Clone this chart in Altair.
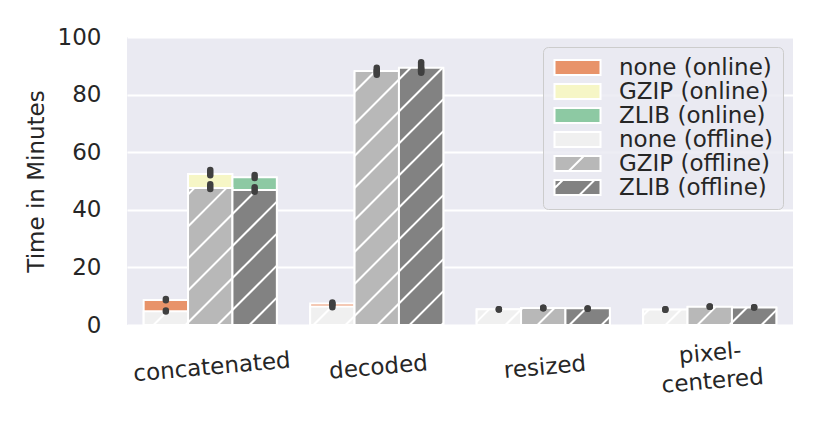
import json
import altair as alt
import pandas as pd

# ---------------- data ----------------
CATEGORIES = ["concatenated", "decoded", "resized", "pixel-\ncentered"]
COMPRESSIONS = ["none", "GZIP", "ZLIB"]
SERIES = ["none (online)", "GZIP (online)", "ZLIB (online)",
          "none (offline)", "GZIP (offline)", "ZLIB (offline)"]

# mean time in minutes, per category -> [none, GZIP, ZLIB]
ONLINE_MEAN = [[8.7, 52.4, 51.3], [7.5, 87.6, 88.3], [5.4, 5.8, 5.7], [5.3, 6.2, 6.0]]
OFFLINE_MEAN = [[4.8, 47.6, 46.9], [6.4, 88.2, 89.3], [5.5, 5.9, 5.8], [5.4, 6.3, 6.1]]
# confidence interval (low, high)
ONLINE_CI = [[(8.6, 9.0), (52.0, 53.8), (51.0, 52.1)],
             [(7.0, 7.8), (86.9, 88.3), (87.6, 89.0)],
             [(5.35, 5.5), (5.8, 6.0), (5.6, 5.75)],
             [(5.3, 5.45), (6.3, 6.45), (6.05, 6.2)]]
OFFLINE_CI = [[(4.7, 5.0), (47.2, 48.9), (46.3, 47.8)],
              [(6.2, 7.4), (87.5, 89.3), (87.9, 91.2)],
              [(5.35, 5.5), (5.8, 6.0), (5.6, 5.75)],
              [(5.3, 5.45), (6.3, 6.45), (6.05, 6.2)]]

Y_TICKS = [0, 20, 40, 60, 80, 100]
ONLINE_COLORS = ["#E8936A", "#F6F6C6", "#8DC9A3"]
OFFLINE_COLORS = ["#F0F0F0", "#B8B8B8", "#828282"]

# ---------------- layout / style ----------------
W, H = 666, 288
X_MIN, X_MAX = -0.5, len(CATEGORIES) - 0.5
BW = 0.8 / len(COMPRESSIONS)
FONT = "DejaVu Sans"
FS = 23
TXT = "#262626"
HATCH_STEP = 32.0   # px between hatch lines
HATCH_PHASE = 26.5  # px
BLANK = "\u2800"    # blank glyph used as a spacer line (not trimmed away)

rows = []
for ci, cat in enumerate(CATEGORIES):
    for hi, comp in enumerate(COMPRESSIONS):
        xc = ci + (hi - 1) * BW
        for mode, means, cis in (("online", ONLINE_MEAN, ONLINE_CI),
                                 ("offline", OFFLINE_MEAN, OFFLINE_CI)):
            rows.append(dict(category=cat, comp=comp, mode=mode,
                             series=f"{comp} ({mode})",
                             xc=xc, x0=xc - BW / 2, x1=xc + BW / 2,
                             value=means[ci][hi],
                             lo=cis[ci][hi][0], hi=cis[ci][hi][1]))
df = pd.DataFrame(rows)
df_on = df[df["mode"] == "online"]
df_off = df[df["mode"] == "offline"]

# hatch segments ("/") for offline bars, computed in pixel space then mapped back
px_per_x = W / (X_MAX - X_MIN)
px_per_y = H / 100.0
hatch = []
for _, r in df_off.iterrows():
    xl = (r.x0 - X_MIN) * px_per_x
    xr = (r.x1 - X_MIN) * px_per_x
    yt = H - r.value * px_per_y
    yb = H
    k = int((xl + yt - HATCH_PHASE) // HATCH_STEP) - 1
    while True:
        c = HATCH_PHASE + k * HATCH_STEP
        k += 1
        if c - xr > yb:
            break
        s = max(xl, c - yb)
        e = min(xr, c - yt)
        if e - s <= 0.5:
            continue
        hatch.append(dict(hx0=s / px_per_x + X_MIN, hx1=e / px_per_x + X_MIN,
                          hy0=(H - (c - s)) / px_per_y, hy1=(H - (c - e)) / px_per_y))
df_h = pd.DataFrame(hatch)

# ---------------- scales ----------------
x_scale = alt.Scale(domain=[X_MIN, X_MAX], nice=False, zero=False)
y_scale = alt.Scale(domain=[0, 100], nice=False)
fill_scale = alt.Scale(domain=SERIES, range=ONLINE_COLORS + OFFLINE_COLORS)

RECT = "M-2.3,-0.75H2.3V0.75H-2.3Z"
SHAPES = [RECT, RECT, RECT, RECT,
          RECT + "M-0.87,0.75L0.63,-0.75",
          RECT + "M-2.3,0.08L-1.47,-0.75M0.2,0.75L1.7,-0.75"]
shape_scale = alt.Scale(domain=SERIES, range=SHAPES)

# tick labels: single-line labels sit between the two lines of wrapped ones
label_lines = []
for c in CATEGORIES:
    parts = c.split("\n")
    label_lines.append([BLANK, parts[0]] if len(parts) == 1 else [parts[0], BLANK] + parts[1:])
label_expr = f"{json.dumps(label_lines, ensure_ascii=False)}[round(datum.value)]"

x_axis = alt.Axis(values=list(range(len(CATEGORIES))), labelExpr=label_expr,
                  title=None, grid=False, ticks=False, domain=False,
                  labelAngle=355, labelAlign="center", labelBaseline="middle",
                  labelPadding=28, labelFlush=False, labelLineHeight=14,
                  labelFont=FONT, labelFontSize=FS, labelColor=TXT)
y_axis = alt.Axis(values=Y_TICKS, title="Time in Minutes", grid=True,
                  gridColor="white", gridWidth=2, ticks=False, tickSize=0,
                  domain=False, labelPadding=26, labelFont=FONT,
                  labelFontSize=FS, labelColor=TXT, titleFont=FONT,
                  titleFontSize=FS, titleColor=TXT, titleFontWeight="normal",
                  titlePadding=9)

legend = alt.Legend(title=None, orient="none", legendX=416, legendY=10,
                    symbolSize=400, symbolStrokeColor="white",
                    symbolFillColor="#888888",
                    symbolStrokeWidth=2, symbolOpacity=1,
                    symbolOffset=14, labelOffset=30,
                    labelFont=FONT, labelFontSize=FS, labelColor=TXT,
                    rowPadding=0, padding=9,
                    fillColor="rgba(234,234,242,0.85)", strokeColor="#CCCCCC",
                    cornerRadius=5)

base_x = alt.X("x0:Q", scale=x_scale, axis=x_axis)

online = alt.Chart(df_on).mark_bar(stroke="white", strokeWidth=2).encode(
    x=base_x, x2="x1:Q",
    y=alt.Y("value:Q", scale=y_scale, axis=y_axis), y2=alt.datum(0),
    fill=alt.Fill("series:N", scale=fill_scale, legend=None))

offline = alt.Chart(df_off).mark_bar(stroke="white", strokeWidth=2).encode(
    x=alt.X("x0:Q", scale=x_scale), x2="x1:Q",
    y=alt.Y("value:Q", scale=y_scale), y2=alt.datum(0),
    fill=alt.Fill("series:N", scale=fill_scale, legend=None))

hatch_layer = alt.Chart(df_h).mark_rule(color="white", strokeWidth=2).encode(
    x=alt.X("hx0:Q", scale=x_scale), x2="hx1:Q",
    y=alt.Y("hy0:Q", scale=y_scale), y2="hy1:Q")

errs = alt.Chart(df).mark_rule(color="#404040", strokeWidth=6.5,
                               strokeCap="round").encode(
    x=alt.X("xc:Q", scale=x_scale),
    y=alt.Y("lo:Q", scale=y_scale), y2="hi:Q")

legend_layer = alt.Chart(df).mark_point(filled=True, opacity=0, stroke="white",
                                        strokeWidth=2).encode(
    x=alt.X("xc:Q", scale=x_scale),
    y=alt.Y("value:Q", scale=y_scale),
    fill=alt.Fill("series:N", scale=fill_scale, legend=legend),
    shape=alt.Shape("series:N", scale=shape_scale, legend=legend))

chart = alt.layer(legend_layer, online, offline, hatch_layer, errs).properties(
    width=W, height=H,
    autosize=alt.AutoSizeParams(type="none"),
    padding={"left": 119, "top": 29, "right": 20, "bottom": 95},
).configure(
    background="white",
    view=alt.ViewConfig(fill="#EAEAF2", strokeWidth=0),
)

chart.save("out.html", embed_options={"renderer": "svg", "actions": False})
